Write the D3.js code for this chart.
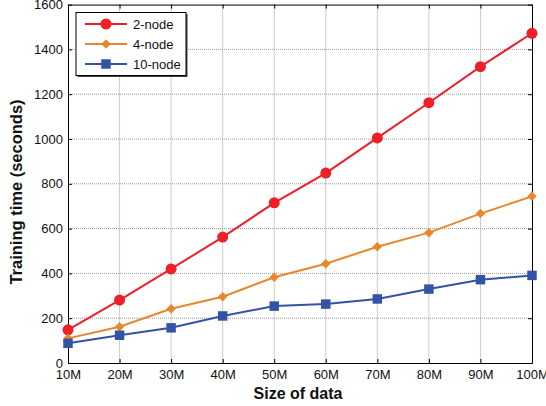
<!DOCTYPE html>
<html>
<head>
<meta charset="UTF-8">
<script src="https://cdn.jsdelivr.net/npm/d3@7"></script>
<style>
  body { margin: 0; background: #fff; }
  svg { font-family: "Liberation Sans", Arial, sans-serif; }
  .grid line { stroke: #999; stroke-dasharray: 1,1; }
</style>
</head>
<body>
<script>
var sizes = ["10M","20M","30M","40M","50M","60M","70M","80M","90M","100M"];
var node2 = [148, 281, 420, 562, 715, 848, 1005, 1162, 1323, 1472];
var node4 = [110, 162, 242, 296, 383, 443, 519, 582, 667, 744];
var node10 = [88, 124, 157, 210, 254, 263, 286, 330, 372, 391];
var yTicks = [0, 200, 400, 600, 800, 1000, 1200, 1400, 1600];
var seriesNames = ["2-node", "4-node", "10-node"];

var w = 546, h = 406;
var pLeft = 68, pRight = 532, pTop = 4.6, pBottom = 363;

var svg = d3.select("body").append("svg").attr("width", w).attr("height", h);

var x = d3.scalePoint().domain(sizes).range([pLeft, pRight]);
var y = d3.scaleLinear().domain([0, 1600]).range([pBottom, pTop]);

// grid
var grid = svg.append("g").attr("class", "grid");
grid.selectAll(".gx").data(sizes.slice(1, -1)).enter().append("line")
  .attr("x1", d => x(d)).attr("x2", d => x(d)).attr("y1", pTop).attr("y2", pBottom);
grid.selectAll(".gy").data(yTicks.slice(1, -1)).enter().append("line")
  .attr("x1", pLeft).attr("x2", pRight).attr("y1", d => y(d)).attr("y2", d => y(d));

// axes (ticks inward)
var xAxis = svg.append("g").attr("transform", "translate(0," + pBottom + ")")
  .call(d3.axisBottom(x).tickSizeInner(-4).tickSizeOuter(0).tickPadding(7));
var xTop = svg.append("g").attr("transform", "translate(0," + pTop + ")")
  .call(d3.axisTop(x).tickSizeInner(-4).tickSizeOuter(0).tickFormat(""));
var yAxis = svg.append("g").attr("transform", "translate(" + pLeft + ",0)")
  .call(d3.axisLeft(y).tickValues(yTicks).tickFormat(d3.format("d"))
    .tickSizeInner(-4).tickSizeOuter(0).tickPadding(5));
var yRight = svg.append("g").attr("transform", "translate(" + pRight + ",0)")
  .call(d3.axisRight(y).tickValues(yTicks).tickSizeInner(-4).tickSizeOuter(0).tickFormat(""));

[xAxis, xTop, yAxis, yRight].forEach(function(g) {
  g.select(".domain").attr("stroke", "#000");
  g.selectAll(".tick line").attr("stroke", "#000");
  g.selectAll("text").attr("font-size", 13).attr("fill", "#111")
    .attr("font-family", "Liberation Sans, Arial, sans-serif");
});

var series = [
  { name: seriesNames[0], values: node2, color: "#ee1f26", shape: d3.symbolCircle, size: 95, rot: 0 },
  { name: seriesNames[1], values: node4, color: "#e8872c", shape: d3.symbolSquare, size: 45, rot: 45 },
  { name: seriesNames[2], values: node10, color: "#3353a5", shape: d3.symbolSquare, size: 90, rot: 0 }
];

var line = d3.line().x((d, i) => x(sizes[i])).y(d => y(d));

series.forEach(function(s) {
  svg.append("path").datum(s.values).attr("d", line)
    .attr("fill", "none").attr("stroke", s.color).attr("stroke-width", 2);
  svg.append("g").selectAll("path").data(s.values).enter().append("path")
    .attr("d", d3.symbol().type(s.shape).size(s.size))
    .attr("transform", (d, i) => "translate(" + x(sizes[i]) + "," + y(d) + ") rotate(" + s.rot + ")")
    .attr("fill", s.color);
});

// legend
var lg = svg.append("g");
lg.append("rect").attr("x", 77.5).attr("y", 14).attr("width", 110).attr("height", 63).attr("fill", "#444");
lg.append("rect").attr("x", 76).attr("y", 12.5).attr("width", 110).attr("height", 63)
  .attr("fill", "#fff").attr("stroke", "#000").attr("stroke-width", 1);
series.forEach(function(s, i) {
  var ly = 24 + i * 20;
  lg.append("line").attr("x1", 85).attr("x2", 127).attr("y1", ly).attr("y2", ly)
    .attr("stroke", s.color).attr("stroke-width", 2);
  lg.append("path").attr("d", d3.symbol().type(s.shape).size(s.size))
    .attr("transform", "translate(106," + ly + ") rotate(" + s.rot + ")").attr("fill", s.color);
  lg.append("text").attr("x", 133).attr("y", ly + 4.5).attr("font-size", 13)
    .attr("fill", "#111").text(s.name);
});

// axis titles
svg.append("text").attr("x", 298).attr("y", 399).attr("text-anchor", "middle")
  .attr("font-size", 16).attr("font-weight", "bold").attr("fill", "#111").text("Size of data");
svg.append("text").attr("transform", "translate(22,192) rotate(-90)")
  .attr("text-anchor", "middle").attr("font-size", 16.5).attr("font-weight", "bold")
  .attr("fill", "#111").text("Training time (seconds)");
</script>
</body>
</html>
